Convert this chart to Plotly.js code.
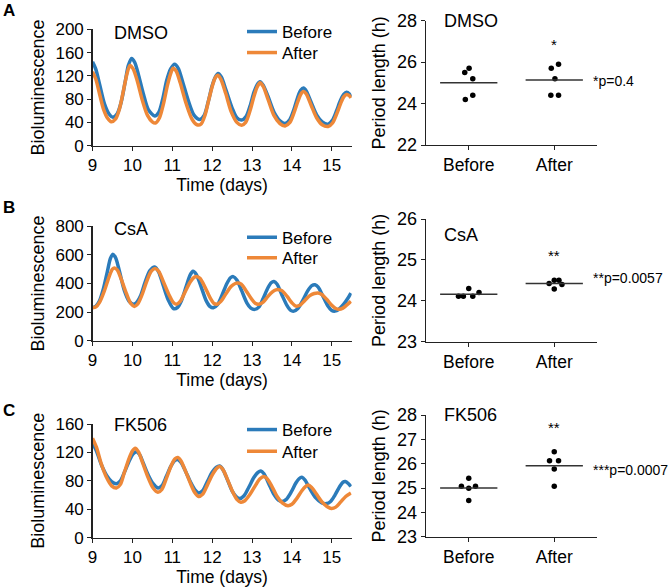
<!DOCTYPE html>
<html>
<head>
<meta charset="utf-8">
<script src="https://cdn.plot.ly/plotly-3.0.1.min.js"></script>
<style>html,body{margin:0;padding:0;background:#fff;}#chart{width:671px;height:588px;}</style>
</head>
<body>
<div id="chart"></div>
<script>
// ---------- Data: bioluminescence time series (Time in days) ----------
const dmsoBeforeT = [9.0,9.08,9.18,9.3,9.42,9.51,9.62,9.72,9.82,9.9,9.98,10.06,10.16,10.28,10.4,10.56,10.66,10.76,10.86,10.96,11.06,11.15,11.26,11.4,11.55,11.69,11.8,11.9,12.0,12.08,12.15,12.23,12.35,12.5,12.62,12.74,12.85,12.95,13.05,13.13,13.2,13.28,13.4,13.55,13.7,13.83,13.95,14.05,14.15,14.22,14.29,14.36,14.48,14.62,14.76,14.91,15.02,15.12,15.22,15.3,15.37,15.44,15.48];
const dmsoBeforeV = [144,132,105,72,54,49,55,75,110,138,150,143,120,88,62,51,57,80,112,132,140,133,110,78,52,45,52,75,103,118,124,118,95,65,48,44,50,68,92,105,110,104,85,58,43,38,45,62,84,95,99,94,75,53,41,37,44,60,78,88,92,89,84];
const dmsoAfterT = [9.0,9.08,9.18,9.28,9.38,9.47,9.58,9.68,9.78,9.87,9.94,10.02,10.12,10.25,10.38,10.5,10.58,10.68,10.78,10.88,10.96,11.02,11.1,11.2,11.35,11.5,11.62,11.72,11.82,11.92,12.02,12.08,12.14,12.22,12.34,12.48,12.62,12.74,12.84,12.95,13.05,13.13,13.2,13.28,13.4,13.55,13.7,13.83,13.95,14.05,14.15,14.22,14.29,14.36,14.48,14.62,14.76,14.91,15.02,15.12,15.22,15.3,15.37,15.44,15.48];
const dmsoAfterV = [127,115,88,62,47,41,46,64,96,125,138,132,112,78,52,41,39,48,72,104,124,133,128,108,72,45,36,37,52,80,106,117,121,114,90,58,40,35,40,60,85,101,108,102,80,52,38,34,40,56,76,88,93,89,70,48,36,33,39,54,72,84,88,86,82];

const csaBeforeT = [9.0,9.08,9.17,9.27,9.37,9.45,9.51,9.58,9.68,9.8,9.92,10.02,10.1,10.2,10.32,10.44,10.56,10.66,10.77,10.9,11.03,11.13,11.23,11.35,11.45,11.52,11.6,11.72,11.85,11.95,12.03,12.13,12.25,12.37,12.46,12.53,12.62,12.74,12.87,12.97,13.07,13.17,13.28,13.4,13.48,13.55,13.63,13.75,13.88,13.97,14.05,14.15,14.28,14.4,14.5,14.58,14.66,14.78,14.9,15.0,15.08,15.18,15.3,15.4,15.48];
const csaBeforeV = [232,240,275,360,480,575,605,580,480,350,275,255,265,310,410,490,515,480,390,285,225,232,280,380,460,485,465,380,280,238,230,250,320,400,440,448,425,350,265,228,219,235,295,370,405,414,395,320,245,212,207,225,285,350,385,391,375,310,245,212,207,220,255,295,333];
const csaAfterT = [9.0,9.08,9.18,9.3,9.42,9.5,9.55,9.62,9.72,9.85,9.96,10.05,10.13,10.24,10.36,10.47,10.57,10.66,10.78,10.92,11.02,11.1,11.2,11.32,11.45,11.55,11.62,11.7,11.82,11.95,12.05,12.12,12.22,12.35,12.48,12.58,12.65,12.73,12.85,12.98,13.08,13.17,13.28,13.4,13.52,13.6,13.67,13.75,13.88,14.0,14.1,14.2,14.32,14.45,14.56,14.65,14.74,14.87,15.0,15.1,15.18,15.28,15.38,15.48];
const csaAfterV = [230,235,270,350,450,500,508,495,430,330,260,240,255,320,415,485,505,485,410,320,270,255,275,340,410,443,448,435,375,300,260,255,275,330,380,400,403,395,350,295,262,255,270,310,343,355,357,350,310,265,242,248,280,315,330,334,325,290,248,225,220,228,250,275];

const fkBeforeT = [9.0,9.1,9.22,9.35,9.48,9.6,9.7,9.8,9.92,10.02,10.1,10.18,10.28,10.4,10.52,10.64,10.74,10.85,10.97,11.07,11.14,11.22,11.33,11.46,11.56,11.66,11.76,11.88,12.0,12.1,12.19,12.27,12.38,12.5,12.6,12.69,12.8,12.92,13.05,13.15,13.22,13.3,13.42,13.55,13.66,13.76,13.86,13.98,14.1,14.18,14.25,14.33,14.45,14.6,14.75,14.87,14.97,15.08,15.2,15.28,15.34,15.42,15.48];
const fkBeforeV = [133,122,103,88,79,76,80,92,108,118,121,117,104,88,76,70,73,86,101,109,110,106,94,78,68,63,66,79,92,99,101,96,82,66,58,55,59,71,85,92,94,90,76,61,53,51,54,64,77,83,85,81,69,56,49,48,51,60,72,78,79,76,72];
const fkAfterT = [9.0,9.1,9.22,9.35,9.48,9.6,9.7,9.8,9.92,10.0,10.07,10.15,10.26,10.4,10.52,10.64,10.74,10.85,10.97,11.07,11.14,11.22,11.33,11.46,11.56,11.66,11.76,11.88,12.0,12.12,12.2,12.28,12.4,12.52,12.62,12.72,12.82,12.95,13.08,13.2,13.3,13.38,13.5,13.63,13.76,13.9,14.0,14.12,14.25,14.34,14.41,14.49,14.62,14.76,14.88,14.99,15.1,15.22,15.35,15.48];
const fkAfterV = [140,127,104,85,73,70,75,92,112,122,126,121,105,84,70,64,68,83,101,111,113,108,94,76,64,58,61,74,88,98,100,95,80,64,54,50,52,61,73,83,86,83,72,58,49,45,47,55,66,72,74,71,61,50,44,41,43,50,58,63];

// ---------- Data: period lengths (h) ----------
const groups = ["Before", "After"];
const dmsoPerBefore = [25.5, 25.7, 25.2, 24.2, 24.4];
const dmsoPerAfter  = [25.7, 25.9, 25.2, 24.4, 24.4];
const dmsoMeans = [25.0, 25.14];
const csaPerBefore = [24.11, 24.11, 24.30, 24.11, 24.20];
const csaPerAfter  = [24.42, 24.50, 24.50, 24.40, 24.29];
const csaMeans = [24.16, 24.42];
const fkPerBefore = [25.40, 25.07, 24.99, 25.07, 24.49];
const fkPerAfter  = [26.49, 26.12, 26.12, 25.78, 25.07];
const fkMeans = [25.0, 25.92];
// horizontal spread of dots within a group (category units)
const dmsoJitB = [-0.047, 0.004, 0.047, -0.04, 0.047];
const dmsoJitA = [-0.035, 0.05, 0.008, -0.04, 0.05];
const csaJitB = [-0.12, -0.063, 0.0, 0.047, 0.12];
const csaJitA = [-0.06, 0.0, 0.055, 0.09, 0.0];
const fkJitB = [0.0, -0.086, 0.0, 0.079, 0.0];
const fkJitA = [0.0, -0.055, 0.05, 0.0, 0.0];
const pTexts = ["*p=0.4", "**p=0.0057", "***p=0.0007"];
const starTexts = ["*", "**", "**"];
const drugs = ["DMSO", "CsA", "FK506"];

// ---------- Styling ----------
const BLUE = "#2b7bba", ORANGE = "#ee8838";
const FONT = "Liberation Sans, Arial, sans-serif";
const W = 671, H = 588;
const px = v => v / W, py = v => (H - v) / H;

const traces = [];
function lineTraces(xa, ya, tb, vb, ta, va, legB, legA) {
  traces.push({x: tb, y: vb, xaxis: xa, yaxis: ya, type: "scatter", mode: "lines",
    line: {color: BLUE, width: 3.5, shape: "spline", smoothing: 0.8}, name: "Before", legend: legB});
  traces.push({x: ta, y: va, xaxis: xa, yaxis: ya, type: "scatter", mode: "lines",
    line: {color: ORANGE, width: 3.5, shape: "spline", smoothing: 0.8}, name: "After", legend: legA});
}
function dotTraces(xa, ya, pb, pa, jb, ja, means) {
  traces.push({x: jb.map(j => 0 + j), y: pb, xaxis: xa, yaxis: ya, type: "scatter", mode: "markers",
    marker: {color: "#000", size: 5.5}, showlegend: false});
  traces.push({x: ja.map(j => 1 + j), y: pa, xaxis: xa, yaxis: ya, type: "scatter", mode: "markers",
    marker: {color: "#000", size: 5.5}, showlegend: false});
  const hw = 0.335;
  means.forEach((m, i) => {
    traces.push({x: [i - hw, i + hw], y: [m, m], xaxis: xa, yaxis: ya, type: "scatter", mode: "lines",
      line: {color: "#333", width: 1.5}, showlegend: false});
  });
}
lineTraces("x", "y", dmsoBeforeT, dmsoBeforeV, dmsoAfterT, dmsoAfterV, "legend", "legend2");
dotTraces("x2", "y2", dmsoPerBefore, dmsoPerAfter, dmsoJitB, dmsoJitA, dmsoMeans);
lineTraces("x3", "y3", csaBeforeT, csaBeforeV, csaAfterT, csaAfterV, "legend3", "legend4");
dotTraces("x4", "y4", csaPerBefore, csaPerAfter, csaJitB, csaJitA, csaMeans);
lineTraces("x5", "y5", fkBeforeT, fkBeforeV, fkAfterT, fkAfterV, "legend5", "legend6");
dotTraces("x6", "y6", fkPerBefore, fkPerAfter, fkJitB, fkJitA, fkMeans);

const axBase = {showline: true, linecolor: "#222", linewidth: 1.3, ticks: "outside", ticklen: 4,
  tickcolor: "#222", showgrid: false, zeroline: false, tickfont: {family: FONT, size: 17, color: "#000"}, fixedrange: true};
const leftX = [px(92.5), px(351.7)];
const rightX = [px(426), px(597)];
function lx(anchor) {
  return Object.assign({}, axBase, {domain: leftX, anchor: anchor, range: [9, 15.5], tickvals: [9,10,11,12,13,14,15],
    title: {text: "Time (days)", font: {family: FONT, size: 17.5, color: "#000"}, standoff: 2}});
}
function ly(anchor, dom, rng, dt) {
  return Object.assign({}, axBase, {domain: dom, anchor: anchor, range: rng, dtick: dt, tick0: 0,
    title: {text: "Bioluminescence", font: {family: FONT, size: 18, color: "#000"}, standoff: 6}});
}
function rx(anchor) {
  return Object.assign({}, axBase, {domain: rightX, anchor: anchor, range: [-0.5, 1.5], tickvals: [0, 1], ticktext: groups,
    tickfont: {family: FONT, size: 17.5, color: "#000"}});
}
function ry(anchor, dom, rng, dt) {
  return Object.assign({}, axBase, {domain: dom, anchor: anchor, range: rng, dtick: dt, tick0: 0,
    tickfont: {family: FONT, size: 18, color: "#000"},
    title: {text: "Period length (h)", font: {family: FONT, size: 18, color: "#000"}, standoff: 6}});
}
const legendBase = {xanchor: "left", yanchor: "top", bgcolor: "rgba(0,0,0,0)", font: {family: FONT, size: 17, color: "#000"},
  itemwidth: 30, x: px(242)};
const legTops = [14, 35, 219.7, 240.3, 412, 433.7];

const annotations = [];
function ann(text, x, y, size) {
  annotations.push({text: text, x: x, y: y, xref: "paper", yref: "paper", showarrow: false,
    xanchor: "left", yanchor: "middle", font: {family: FONT, size: size, color: "#000"}});
}
// panel letters
ann("<b>A</b>", px(1), py(11), 17);
ann("<b>B</b>", px(1), py(207.5), 17);
ann("<b>C</b>", px(1), py(410), 17);
// panel titles
ann(drugs[0], px(112), py(33), 18);
ann(drugs[1], px(112), py(229), 18);
ann(drugs[2], px(112), py(425), 18);
ann(drugs[0], px(442), py(21), 18);
ann(drugs[1], px(442), py(235), 18);
ann(drugs[2], px(442), py(415), 18);
// significance marks
const starY = [26.83, 25.1, 27.49];
const pY = [25.09, 24.56, 25.74];
const rYaxes = ["y2", "y4", "y6"];
for (let i = 0; i < 3; i++) {
  annotations.push({text: starTexts[i], x: 1, y: starY[i], xref: "x" + (2 * i + 2), yref: rYaxes[i], showarrow: false,
    xanchor: "center", yanchor: "middle", font: {family: FONT, size: 15, color: "#000"}});
  annotations.push({text: pTexts[i], x: px(591), y: pY[i], xref: "paper", yref: rYaxes[i], showarrow: false,
    xanchor: "left", yanchor: "middle", font: {family: FONT, size: 14, color: "#000"}});
}

const layout = {
  width: W, height: H, margin: {l: 0, r: 0, t: 0, b: 0}, paper_bgcolor: "#fff", plot_bgcolor: "rgba(0,0,0,0)",
  font: {family: FONT, color: "#000"},
  xaxis: lx("y"), yaxis: ly("x", [py(145.7), py(29.3)], [0, 200], 40),
  xaxis2: rx("y2"), yaxis2: ry("x2", [py(145), py(20.7)], [22, 28], 2),
  xaxis3: lx("y3"), yaxis3: ly("x3", [py(340.7), py(226.3)], [0, 800], 200),
  xaxis4: rx("y4"), yaxis4: ry("x4", [py(341.7), py(219)], [23, 26], 1),
  xaxis5: lx("y5"), yaxis5: ly("x5", [py(537.7), py(424)], [0, 160], 40),
  xaxis6: rx("y6"), yaxis6: ry("x6", [py(536.7), py(415)], [23, 28], 1),
  annotations: annotations,
  showlegend: true
};
legTops.forEach((t, i) => {
  layout[i === 0 ? "legend" : "legend" + (i + 1)] = Object.assign({}, legendBase, {y: py(t)});
});
Plotly.newPlot("chart", traces, layout, {displayModeBar: false, staticPlot: true});
</script>
</body>
</html>
